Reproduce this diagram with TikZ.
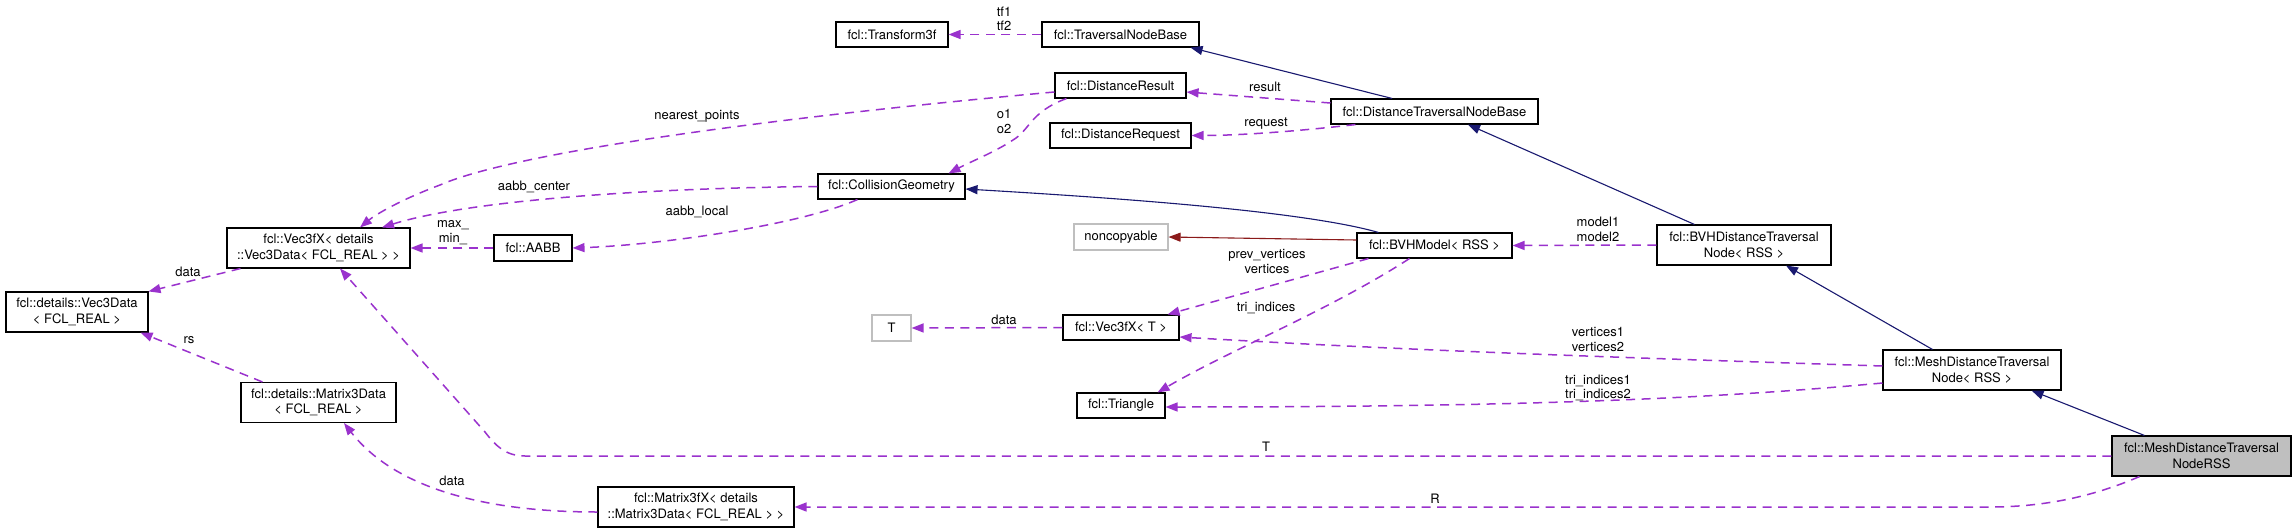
\documentclass[tikz,border=0pt]{standalone}
\usepackage{fontspec}
\setmainfont{TeX Gyre Heros}
\usetikzlibrary{arrows.meta}
\definecolor{dorchid}{RGB}{154,50,205}
\definecolor{mnavy}{RGB}{25,25,112}
\definecolor{fbrick}{RGB}{139,26,26}
\definecolor{lgray}{RGB}{191,191,191}
\newcommand{\nodefont}{\fontsize{13}{15.5}\selectfont}
\newcommand{\lblfont}{\fontsize{13}{14.5}\selectfont}
\begin{document}
\begin{tikzpicture}[x=1pt,y=-1pt,
  cls/.style={draw=black, line width=1.1pt, fill=white, inner sep=0pt, align=center, font=\nodefont},
  ext/.style={cls, draw=lgray},
  root/.style={cls, fill=lgray},
  tipstyle/.style={-{Triangle[length=12pt,width=9pt]}},
  use/.style={draw=dorchid, line width=1.5pt, dash pattern=on 9pt off 6.5pt, tipstyle},
  inh/.style={draw=mnavy, line width=1.1pt, tipstyle},
  priv/.style={draw=fbrick, line width=1.1pt, tipstyle},
  lbl/.style={inner sep=0pt, align=center, font=\lblfont}]
\fill[white] (0,0) rectangle (2296,532);
\useasboundingbox (0,0) rectangle (2296,532);

% nodes
\node[cls, minimum width=112pt, minimum height=25pt] (tf) at (892,34.5) {fcl::Transform3f};
\node[cls, minimum width=157pt, minimum height=25pt] (tnb) at (1120.5,34.5) {fcl::TraversalNodeBase};
\node[cls, minimum width=131pt, minimum height=25pt] (dres) at (1120.5,85.5) {fcl::DistanceResult};
\node[cls, minimum width=207pt, minimum height=25pt] (dtnb) at (1434.5,111.5) {fcl::DistanceTraversalNodeBase};
\node[cls, minimum width=141pt, minimum height=25pt] (dreq) at (1120.5,135.5) {fcl::DistanceRequest};
\node[cls, minimum width=147pt, minimum height=25pt] (cg) at (891.5,186.5) {fcl::CollisionGeometry};
\node[cls, minimum width=183pt, minimum height=40pt] (v3x) at (318.5,248) {fcl::Vec3fX< details\\::Vec3Data< FCL\_REAL > >};
\node[cls, minimum width=78pt, minimum height=26pt] (aabb) at (533,248) {fcl::AABB};
\node[ext, minimum width=94pt, minimum height=26pt] (nonc) at (1121,237) {noncopyable};
\node[cls, minimum width=155pt, minimum height=25pt] (bvh) at (1434.5,245.5) {fcl::BVHModel< RSS >};
\node[cls, minimum width=174pt, minimum height=40pt] (bvhd) at (1744,245) {fcl::BVHDistanceTraversal\\Node< RSS >};
\node[cls, minimum width=142pt, minimum height=40pt] (v3d) at (77,312) {fcl::details::Vec3Data\\< FCL\_REAL >};
\node[ext, minimum width=39pt, minimum height=26pt] (tT) at (891.5,328) {T};
\node[cls, minimum width=116pt, minimum height=25pt] (v3t) at (1121,327.5) {fcl::Vec3fX< T >};
\node[cls, minimum width=88pt, minimum height=25pt] (tri) at (1121,405.5) {fcl::Triangle};
\node[cls, minimum width=178pt, minimum height=40pt] (mdtn) at (1972,370) {fcl::MeshDistanceTraversal\\Node< RSS >};
\node[cls, minimum width=155pt, minimum height=40pt] (m3d) at (318.5,402.5) {fcl::details::Matrix3Data\\< FCL\_REAL >};
\node[cls, minimum width=196pt, minimum height=40pt] (m3x) at (696,507) {fcl::Matrix3fX< details\\::Matrix3Data< FCL\_REAL > >};
\node[root, minimum width=179pt, minimum height=40pt] (rootn) at (2201.5,456) {fcl::MeshDistanceTraversal\\NodeRSS};

% usage edges (dashed)
\draw[use] (tnb.west) -- (tf.east);
\draw[use] ([yshift=8.5pt]dtnb.west) -- ([yshift=-6.5pt]dres.east);
\draw[use] ([xshift=25pt]dtnb.south west) .. controls (1300,131) and (1240,135.5) .. (dreq.east);
\draw[use] ([xshift=12pt]dres.south west) .. controls (1030,112) and (1030,130) .. (1013,140)
   .. controls (995,152) and (970,162) .. ([xshift=-17pt]cg.north east);
\draw[use] ([yshift=-6.5pt]dres.west) .. controls (800,115) and (520,150) .. (440,185)
   .. controls (400,200) and (375,215) .. ([xshift=41.5pt]v3x.north);
\draw[use] (cg.west) .. controls (650,188) and (470,200) .. ([xshift=63.5pt]v3x.north);
\draw[use] ([xshift=40pt]cg.south west) .. controls (800,225) and (660,245) .. (aabb.east);
\draw[use] (aabb.west) -- (v3x.east);
\draw[use] ([xshift=14pt]v3x.south west) -- (v3d.north east);
\draw[use] ([xshift=22pt]m3d.north west) -- ([xshift=-8pt]v3d.south east);
\draw[use] ([yshift=-5pt]m3x.west) .. controls (470,512) and (390,482) .. ([xshift=25.5pt]m3d.south);
\draw[use] (bvhd.west) -- (bvh.east);
\draw[use] ([xshift=12pt]bvh.south west) -- ([xshift=-12pt]v3t.north east);
\draw[use] ([xshift=53pt]bvh.south west) .. controls (1330,310) and (1230,350) .. ([xshift=-8pt]tri.north east);
\draw[use] (v3t.west) -- (tT.east);
\draw[use] ([yshift=4pt]mdtn.west) .. controls (1600,357) and (1400,350) .. ([yshift=-9.5pt]v3t.east);
\draw[use] ([yshift=-13pt]mdtn.west) .. controls (1700,400) and (1500,407) .. ([yshift=-1.5pt]tri.east);
\draw[use] (rootn.west) -- (525,456) .. controls (505,456) and (495,445) .. (485,432) -- ([xshift=21.5pt]v3x.south);
\draw[use] ([xshift=28pt]rootn.south west) .. controls (2090,498) and (2040,507) .. (1990,507) -- (m3x.east);

% inheritance edges
\draw[inh] ([xshift=-42.5pt]dtnb.north) -- ([xshift=-9pt]tnb.south east);
\draw[inh] ([xshift=38pt]bvhd.north west) -- ([xshift=33.5pt]dtnb.south);
\draw[inh] ([xshift=50pt]mdtn.north west) -- ([xshift=42pt]bvhd.south);
\draw[inh] ([xshift=33pt]rootn.north west) -- ([xshift=-30pt]mdtn.south east);
\draw[inh] ([xshift=22pt]bvh.north west) .. controls (1300,210) and (1100,197) .. ([yshift=-2.5pt]cg.east);
\draw[priv] ([yshift=5.5pt]bvh.west) -- (nonc.east);

% labels
\node[lbl] (l1) at (1004,19) {tf1\\tf2};
\node[lbl] (l2) at (1265,87) {result};
\node[lbl] (l3) at (1266,124) {request};
\node[lbl] (l4) at (1004,121.5) {o1\\o2};
\node[lbl] (l5) at (697,116) {nearest\_points};
\node[lbl] (l6) at (534,187) {aabb\_center};
\node[lbl] (l7) at (697,212) {aabb\_local};
\node[lbl] (l8) at (453,232.5) {max\_\\min\_};
\node[lbl] (l9) at (188,272) {data};
\node[lbl] (l10) at (189,340) {rs};
\node[lbl] (l11) at (452,481) {data};
\node[lbl] (l12) at (1598,229.5) {model1\\model2};
\node[lbl] (l13) at (1267,261.5) {prev\_vertices\\vertices};
\node[lbl] (l14) at (1266,308) {tri\_indices};
\node[lbl] (l15) at (1004,320) {data};
\node[lbl] (l16) at (1598,339.5) {vertices1\\vertices2};
\node[lbl] (l17) at (1598,388) {tri\_indices1\\tri\_indices2};
\node[lbl] (l18) at (1266,447) {T};
\node[lbl] (l19) at (1435,499) {R};
\end{tikzpicture}
\end{document}
